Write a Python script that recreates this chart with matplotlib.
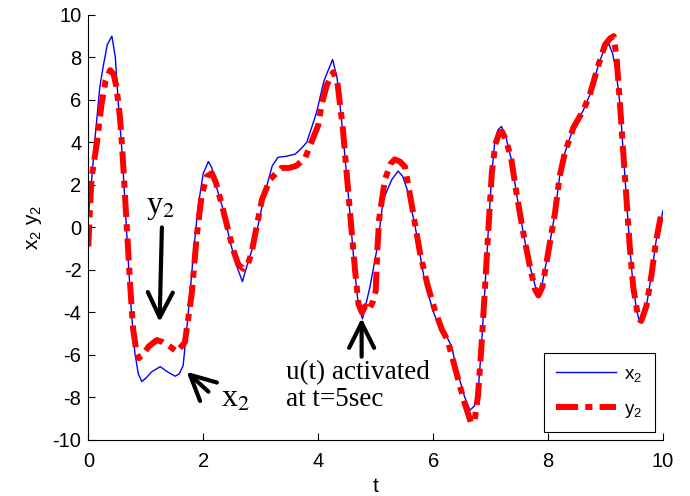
import matplotlib
matplotlib.use("Agg")
import matplotlib.pyplot as plt
from matplotlib import font_manager

# --- fonts ---
installed = {f.name for f in font_manager.fontManager.ttflist}
SANS = "Liberation Sans Narrow" if "Liberation Sans Narrow" in installed else "Liberation Sans"
SERIF = "Liberation Serif"
plt.rcParams["font.family"] = [SANS, "DejaVu Sans"]
plt.rcParams["mathtext.fontset"] = "custom"
plt.rcParams["mathtext.rm"] = SANS
plt.rcParams["mathtext.it"] = SANS
plt.rcParams["axes.unicode_minus"] = False

# --- data: x2 (state) and y2 (output) ---
t_x2 = [0.00, 0.06, 0.12, 0.20, 0.26, 0.33, 0.41, 0.47, 0.52, 0.58,
        0.64, 0.70, 0.75, 0.81, 0.87, 0.93, 1.00, 1.10, 1.25, 1.38,
        1.51, 1.58, 1.65, 1.74, 1.83, 1.91, 2.00, 2.09, 2.15, 2.23,
        2.35, 2.46, 2.58, 2.68, 2.75, 2.90, 3.07, 3.20, 3.30, 3.45,
        3.60, 3.70, 3.80, 3.97, 4.10, 4.25, 4.33, 4.43, 4.55, 4.64,
        4.70, 4.77, 4.90, 5.03, 5.13, 5.28, 5.39, 5.47, 5.57, 5.71,
        5.83, 5.92, 6.02, 6.12, 6.23, 6.32, 6.41, 6.55, 6.64, 6.72,
        6.78, 6.84, 6.90, 6.96, 7.02, 7.07, 7.13, 7.19, 7.27, 7.36,
        7.45, 7.57, 7.68, 7.81, 7.90, 8.00, 8.12, 8.20, 8.29, 8.44,
        8.61, 8.72, 8.87, 8.99, 9.06, 9.12, 9.18, 9.25, 9.30, 9.36,
        9.42, 9.48, 9.54, 9.59, 9.65, 9.71, 9.80, 9.88, 10.0]
x2 = [0.5, 2.3, 4.3, 6.6, 7.6, 8.6, 9.0, 8.0, 5.9, 3.8,
      1.1, -1.8, -4.0, -5.9, -6.9, -7.25, -7.1, -6.8, -6.55, -6.8,
      -7.0, -6.9, -6.5, -4.0, -1.2, 1.0, 2.55, 3.1, 2.8, 1.9,
      0.8, -0.6, -1.8, -2.55, -1.9, -0.6, 1.6, 2.9, 3.3, 3.35,
      3.45, 3.7, 4.0, 5.4, 6.9, 7.9, 7.0, 4.4, 0.7, -2.2,
      -3.7, -4.3, -2.8, -0.9, 1.3, 2.25, 2.65, 2.4, 1.6, -0.3,
      -2.2, -3.2, -4.1, -4.7, -5.1, -5.6, -6.7, -8.0, -8.6, -8.4,
      -7.8, -5.6, -2.9, -0.1, 2.55, 4.0, 4.6, 4.75, 4.2, 3.2,
      1.6, -0.3, -1.8, -3.1, -2.6, -1.2, 0.7, 2.4, 3.5, 4.7,
      5.5, 6.2, 7.6, 8.5, 8.6, 8.2, 7.4, 5.8, 3.8, 1.45,
      -0.9, -2.8, -3.9, -4.45, -4.3, -3.7, -2.2, -0.6, 0.8]

t_y2 = [0.00, 0.03, 0.06, 0.15, 0.23, 0.30, 0.38, 0.44, 0.49, 0.55,
        0.58, 0.61, 0.67, 0.73, 0.78, 0.84, 0.88, 0.95, 1.05, 1.19,
        1.30, 1.42, 1.54, 1.62, 1.68, 1.80, 1.89, 1.97, 2.06, 2.15,
        2.22, 2.32, 2.43, 2.52, 2.61, 2.70, 2.78, 2.84, 3.02, 3.16,
        3.36, 3.50, 3.62, 3.77, 3.88, 4.00, 4.06, 4.15, 4.26, 4.33,
        4.43, 4.55, 4.64, 4.70, 4.76, 4.82, 4.88, 4.95, 5.00, 5.03,
        5.06, 5.16, 5.26, 5.33, 5.42, 5.51, 5.65, 5.77, 5.90, 6.03,
        6.15, 6.25, 6.41, 6.55, 6.66, 6.72, 6.78, 6.84, 6.90, 6.96,
        7.02, 7.08, 7.15, 7.20, 7.27, 7.36, 7.45, 7.57, 7.68, 7.77,
        7.83, 7.90, 8.00, 8.12, 8.20, 8.29, 8.44, 8.61, 8.72, 8.87,
        8.99, 9.08, 9.14, 9.19, 9.25, 9.30, 9.36, 9.42, 9.48, 9.57,
        9.62, 9.71, 9.80, 9.88, 9.98]
y2 = [-0.9, 1.0, 2.4, 4.0, 5.8, 6.9, 7.4, 7.2, 6.6, 5.2,
      4.1, 2.8, 0.0, -2.8, -4.8, -5.9, -6.15, -6.0, -5.6, -5.3,
      -5.4, -5.6, -5.85, -5.6, -5.4, -3.1, -0.3, 1.45, 2.4, 2.55,
      2.1, 1.1, -0.1, -1.05, -1.75, -1.95, -1.7, -1.2, 1.3, 2.25,
      2.8, 2.8, 2.9, 3.25, 4.0, 4.8, 5.8, 6.7, 7.3, 6.9,
      4.6, 0.8, -2.0, -3.6, -4.0, -3.7, -3.9, -3.5, -3.0, -1.0,
      0.4, 2.25, 3.0, 3.2, 3.1, 2.85, 0.7, -1.2, -2.7, -3.9,
      -4.8, -5.3, -6.9, -8.3, -9.2, -9.1, -7.9, -5.6, -2.9, -0.1,
      2.55, 3.9, 4.45, 4.5, 4.1, 3.2, 1.6, -0.3, -1.8, -2.9,
      -3.2, -2.8, -1.2, 0.7, 2.4, 3.5, 4.7, 5.5, 6.2, 7.6,
      8.6, 8.9, 9.0, 8.0, 5.8, 3.8, 1.45, -0.9, -2.8, -4.3,
      -4.4, -3.7, -2.2, -0.6, 0.8]

x_ticks = [0, 2, 4, 6, 8, 10]
y_ticks = [-10, -8, -6, -4, -2, 0, 2, 4, 6, 8, 10]

fig = plt.figure(figsize=(6.9, 4.96), dpi=100)
ax = fig.add_axes([0.128, 0.113, 0.833, 0.857])

ax.plot(t_x2, x2, color="#0000ff", lw=1.0, label="x$_2$")
ax.plot(t_y2, y2, color="#ff0000", lw=4.3, linestyle=(0, (3.7, 1.2, 1.2, 1.2)),
        dash_capstyle="butt", label="y$_2$")

ax.set_xlim(0, 10)
ax.set_ylim(-10, 10)
ax.set_xticks(x_ticks)
ax.set_yticks(y_ticks)
ax.tick_params(direction="in", length=5, width=0.8, labelsize=14.5)
ax.tick_params(axis="x", pad=9)
ax.tick_params(axis="y", pad=5)
for side in ("top", "right"):
    ax.spines[side].set_visible(False)
ax.set_xlabel("t", fontsize=15, labelpad=4)
ax.set_ylabel("x$_2$ y$_2$", fontsize=15, labelpad=6)

# --- annotations ---
ann = dict(fontsize=23, family=SERIF, math_fontfamily="stix")
arrow = dict(arrowstyle="->,head_length=1.2,head_width=0.6", lw=3, color="k",
             mutation_scale=15, shrinkA=0, shrinkB=0)
ax.text(1.25, 0.95, "y$_2$", ha="center", va="center", **ann)
ax.annotate("", xy=(1.24, -4.45), xytext=(1.28, 0.0), arrowprops=arrow)
ax.text(2.56, -8.1, "x$_2$", ha="center", va="center", **ann)
ax.annotate("", xy=(1.71, -6.79), xytext=(2.09, -7.73), arrowprops=arrow)
ax.text(3.44, -6.25, "u(t) activated\nat t=5sec", ha="left", va="top",
        linespacing=1.1, fontsize=19.5, family=SERIF)
ax.annotate("", xy=(4.755, -4.27), xytext=(4.755, -6.08), arrowprops=arrow)

leg = ax.legend(loc="lower right", bbox_to_anchor=(0.9856, 0.0188), borderaxespad=0,
                fontsize=13.5, handlelength=3.2, handletextpad=0.45, labelspacing=0.9,
                fancybox=False, framealpha=1, edgecolor="k", borderpad=0.65)
leg.get_frame().set_linewidth(0.8)

fig.savefig("out.png", dpi=100)
